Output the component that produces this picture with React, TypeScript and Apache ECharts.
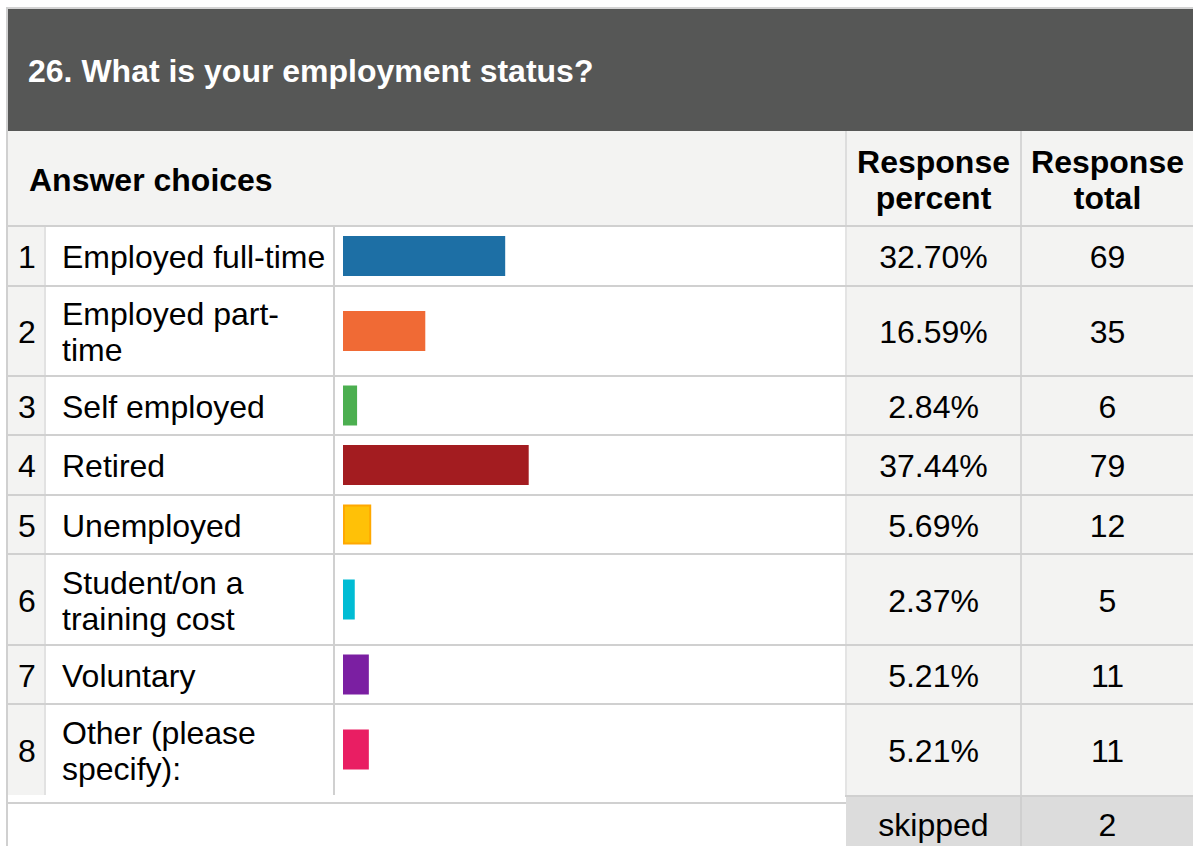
import React, { useEffect, useRef } from "react";
import * as echarts from "echarts";

const title = "26. What is your employment status?";
const headerAnswer = "Answer choices";
const headerPercent = "Response\npercent";
const headerTotal = "Response\ntotal";
const categories = [
  "Employed full-time",
  "Employed part-\ntime",
  "Self employed",
  "Retired",
  "Unemployed",
  "Student/on a\ntraining cost",
  "Voluntary",
  "Other (please\nspecify):",
];
const percents = [32.7, 16.59, 2.84, 37.44, 5.69, 2.37, 5.21, 5.21];
const totals = [69, 35, 6, 79, 12, 5, 11, 11];
const skippedLabel = "skipped";
const skippedTotal = 2;
const barColors = ["#1d6fa5", "#f06a35", "#4caf50", "#a31c20", "#ffc107", "#00bcd4", "#7b1fa2", "#e91e63"];
const barBorders = ["#1d6fa5", "#f06a35", "#4caf50", "#a31c20", "#ffa800", "#00bcd4", "#7b1fa2", "#e91e63"];

// layout (pixels)
const W = 1193;
const H = 846;
const rowLines = [226, 286, 376, 435, 495, 554, 645, 704, 795];
const FONT = '"Liberation Sans", Arial, Helvetica, sans-serif';
const LINE = "#d0d0d0";
const LIGHT = "#f3f3f2";
const colNumL = 9, colNumR = 45, colLabR = 334, colBarR = 846, colPctR = 1021, colTotR = 1194;

export default function App() {
  const ref = useRef<HTMLDivElement>(null);
  useEffect(() => {
    document.body.style.margin = "0";
    const chart = echarts.init(ref.current!, null, { renderer: "svg" });
    const g: any[] = [];
    const rect = (x: number, y: number, w: number, h: number, fill: string, z = 0) =>
      g.push({ type: "rect", z, shape: { x, y, width: w, height: h }, style: { fill }, silent: true });
    const text = (
      x: number,
      y: number,
      t: string,
      opts: { bold?: boolean; align?: string; color?: string; size?: number } = {}
    ) =>
      g.push({
        type: "text",
        z: 5,
        x,
        y,
        silent: true,
        style: {
          text: t,
          fill: opts.color || "#000",
          fontSize: opts.size || 32,
          fontWeight: opts.bold ? "bold" : "normal",
          fontFamily: FONT,
          lineHeight: 36,
          align: opts.align || "left",
          textAlign: opts.align || "left",
          verticalAlign: "middle",
          textVerticalAlign: "middle",
        },
      });

    // outer border
    rect(6, 7, W - 6, 2, "#d3d3d3");
    rect(6, 7, 2, H - 7, "#d0d0d0");
    // dark title bar
    rect(8, 9, W - 8, 122, "#565756");
    text(28, 71, title, { bold: true, color: "#ffffff" });
    // header row
    rect(8, 131, W - 8, 95, LIGHT);
    rect(colBarR - 1, 131, 2, 95, "#dddddd");
    rect(colPctR - 1, 131, 2, 95, "#d6d6d6");
    text(29, 180, headerAnswer, { bold: true });
    text((colBarR + colPctR) / 2, 180, headerPercent, { bold: true, align: "center" });
    text((colPctR + colTotR) / 2, 180, headerTotal, { bold: true, align: "center" });

    // body backgrounds
    const top = rowLines[0];
    const bottom = rowLines[rowLines.length - 1];
    rect(colNumL - 1, top, colNumR - colNumL + 1, bottom - top, LIGHT);
    rect(colNumR, top, colBarR - colNumR, bottom - top, "#ffffff");
    rect(colBarR, top, W - colBarR, bottom - top, LIGHT);
    // verticals
    rect(colNumR - 1, top, 2, bottom - top, "#e2e2e2");
    rect(colLabR - 1, top, 2, bottom - top, LINE);
    rect(colBarR - 1, top, 2, bottom - top, "#e4e4e4");
    rect(colPctR - 1, top, 2, H - top, "#d6d6d6");
    // horizontals
    for (let i = 0; i < rowLines.length - 1; i++) rect(8, rowLines[i] - 1, W - 8, 2, LINE, 1);
    // skipped row
    rect(8, bottom, colBarR - 8, H - bottom, "#ffffff");
    rect(8, 802, colBarR - 8, 2, LINE);
    rect(colBarR - 1, bottom, W - colBarR + 1, 2, LINE);
    rect(colBarR, bottom + 2, W - colBarR, H - bottom - 2, "#dcdcdc");
    rect(colPctR - 1, bottom + 2, 2, H - bottom - 2, "#cfcfcf");
    text((colBarR + colPctR) / 2, 825, skippedLabel, { align: "center" });
    text((colPctR + colTotR) / 2, 825, String(skippedTotal), { align: "center" });

    // rows text + one small grid per row for its bar
    const grids: any[] = [];
    const xAxes: any[] = [];
    const yAxes: any[] = [];
    const series: any[] = [];
    categories.forEach((c, i) => {
      const y0 = rowLines[i];
      const y1 = rowLines[i + 1];
      const cy = (y0 + y1) / 2 + 1;
      text((colNumL + colNumR) / 2, cy, String(i + 1), { align: "center" });
      text(62, cy, c);
      text((colBarR + colPctR) / 2, cy, percents[i].toFixed(2) + "%", { align: "center" });
      text((colPctR + colTotR) / 2, cy, String(totals[i]), { align: "center" });
      grids.push({ left: 343, width: 496, top: y0, height: y1 - y0 });
      xAxes.push({ type: "value", gridIndex: i, min: 0, max: 100, show: false });
      yAxes.push({ type: "category", gridIndex: i, data: [c], show: false });
      series.push({
        type: "bar",
        xAxisIndex: i,
        yAxisIndex: i,
        data: [percents[i]],
        barWidth: 40,
        silent: true,
        z: 10,
        itemStyle: { color: barColors[i], borderColor: barBorders[i], borderWidth: 2 },
      });
    });

    chart.setOption({
      animation: false,
      backgroundColor: "#ffffff",
      grid: grids,
      xAxis: xAxes,
      yAxis: yAxes,
      series,
      graphic: { elements: g },
    });
    return () => chart.dispose();
  }, []);
  return <div ref={ref} style={{ position: "absolute", left: 0, top: 0, width: W, height: H }} />;
}
